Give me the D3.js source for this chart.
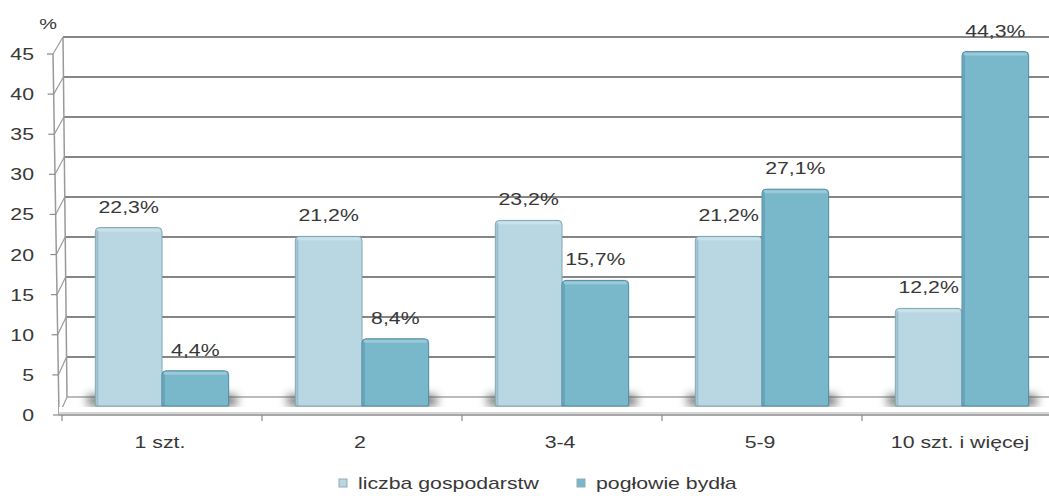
<!DOCTYPE html>
<html>
<head>
<meta charset="utf-8">
<script src="https://cdn.jsdelivr.net/npm/d3@7"></script>
<style>
  body { margin: 0; background: #fff; }
  svg { display: block; font-family: "Liberation Sans", Arial, sans-serif; }
</style>
</head>
<body>
<svg id="chart" width="1049" height="496"></svg>
<script>
// data
const categories = ["1 szt.", "2", "3-4", "5-9", "10 szt. i więcej"];
const series = ["liczba gospodarstw", "pogłowie bydła"];
const households = [22.3, 21.2, 23.2, 21.2, 12.2];
const cattle = [4.4, 8.4, 15.7, 27.1, 44.3];
const yTicks = [0, 5, 10, 15, 20, 25, 30, 35, 40, 45];

const colors = { "liczba gospodarstw": "#b8d7e2", "pogłowie bydła": "#79b7cb" };
const outline = { "liczba gospodarstw": "#7fa6b4", "pogłowie bydła": "#4e8aa0" };
const textColor = "#383838";
const sx = 1.33; // horizontal stretch of the text in the picture

const svg = d3.select("#chart");

// scales: bars sit in the middle of the depth, back wall and front axis around them
const x = d3.scaleBand().domain(categories).range([62, 1062]).padding(0);
const xs = d3.scaleBand().domain(series).range([0, x.bandwidth()]).paddingInner(0).paddingOuter(0.5);
const yBar = d3.scaleLinear().domain([0, 45]).range([406, 46]);
const yBack = d3.scaleLinear().domain([0, 45]).range([397, 37]);
const yFront = d3.scaleLinear().domain([0, 45]).range([415, 54]);
const xFront = d3.scaleLinear().domain([0, 45]).range([59, 53]);
const xBack = d3.scaleLinear().domain([0, 45]).range([67, 63]);

const defs = svg.append("defs");
defs.append("filter").attr("id", "blur")
    .attr("x", "-20%").attr("y", "-100%").attr("width", "140%").attr("height", "300%")
    .append("feGaussianBlur").attr("stdDeviation", 5);

function stretchedText(g, tx, ty, txt, anchor, size) {
    return g.append("text")
        .attr("transform", `translate(${tx},${ty}) scale(${sx},1)`)
        .attr("text-anchor", anchor)
        .attr("fill", textColor)
        .style("font-size", (size || 16) + "px")
        .text(txt);
}

// back wall gridlines
svg.append("g").selectAll("line")
    .data(yTicks).enter().append("line")
    .attr("x1", d => xBack(d)).attr("x2", 1049)
    .attr("y1", d => yBack(d)).attr("y2", d => yBack(d))
    .attr("stroke", d => d === 0 ? "#bbb" : "#868686")
    .attr("stroke-width", 1.8);

// side wall diagonals
svg.append("g").selectAll("line")
    .data(yTicks).enter().append("line")
    .attr("x1", d => xFront(d)).attr("y1", d => yFront(d))
    .attr("x2", d => xBack(d)).attr("y2", d => yBack(d))
    .attr("stroke", "#9a9a9a").attr("stroke-width", 1.2);

// side wall verticals
svg.append("line")
    .attr("x1", xFront(0)).attr("y1", yFront(0)).attr("x2", xFront(45)).attr("y2", yFront(45))
    .attr("stroke", "#9a9a9a").attr("stroke-width", 1.5);
svg.append("line")
    .attr("x1", xBack(0)).attr("y1", yBack(0)).attr("x2", xBack(45)).attr("y2", yBack(45))
    .attr("stroke", "#9a9a9a").attr("stroke-width", 1.5);

// floor shadows
const groups = svg.append("g").selectAll("g")
    .data(categories).enter().append("g")
    .attr("transform", d => `translate(${x(d)},0)`);

groups.append("rect")
    .attr("x", xs(series[0]) - 8)
    .attr("width", xs.bandwidth() * 2 + 16)
    .attr("y", yBack(0) - 2)
    .attr("height", yBar(0) - yBack(0) + 2)
    .attr("fill", "#5f5f5f")
    .attr("opacity", 0.85)
    .attr("filter", "url(#blur)");

// floor front edge and x axis
svg.append("rect")
    .attr("x", xFront(0)).attr("y", yBar(0) + 1)
    .attr("width", 1049 - xFront(0)).attr("height", yFront(0) - yBar(0) - 1)
    .attr("fill", "#fff");
svg.append("line")
    .attr("x1", xFront(0)).attr("x2", 1049)
    .attr("y1", yFront(0) - 2).attr("y2", yFront(0) - 2)
    .attr("stroke", "#d6d6d6").attr("stroke-width", 2);
svg.append("line")
    .attr("x1", xFront(0)).attr("x2", 1049)
    .attr("y1", yFront(0)).attr("y2", yFront(0))
    .attr("stroke", "#8a8a8a").attr("stroke-width", 1.5);

svg.append("g").selectAll("line")
    .data(categories).enter().append("line")
    .attr("x1", d => x(d)).attr("x2", d => x(d))
    .attr("y1", yFront(0)).attr("y2", yFront(0) + 6)
    .attr("stroke", "#8a8a8a").attr("stroke-width", 1.2);

// bars
const rows = categories.map((c, i) => ({ cat: c, values: [
    { s: series[0], v: households[i] },
    { s: series[1], v: cattle[i] }
]}));

function barPath(x0, w, top, bottom) {
    const r = 4;
    return `M${x0},${bottom}V${top + r}Q${x0},${top} ${x0 + r},${top}H${x0 + w - r}` +
        `Q${x0 + w},${top} ${x0 + w},${top + r}V${bottom}Z`;
}

const bars = groups.data(rows).selectAll("g.bar")
    .data(d => d.values).enter().append("g").attr("class", "bar");

bars.append("path")
    .attr("d", d => barPath(xs(d.s), xs.bandwidth(), yBar(d.v), yBar(0)))
    .attr("fill", d => colors[d.s])
    .attr("stroke", d => outline[d.s])
    .attr("stroke-width", 1);

// top highlight
bars.append("rect")
    .attr("x", d => xs(d.s) + 2).attr("width", xs.bandwidth() - 4)
    .attr("y", d => yBar(d.v) + 1).attr("height", 3)
    .attr("fill", "#fff").attr("opacity", 0.25);

// left edge shade
bars.append("rect")
    .attr("x", d => xs(d.s) + 1).attr("width", 2)
    .attr("y", d => yBar(d.v) + 3).attr("height", d => yBar(0) - yBar(d.v) - 3)
    .attr("fill", "#3d6f82").attr("opacity", 0.25);

// value labels
bars.each(function(d) {
    stretchedText(d3.select(this), xs(d.s) + xs.bandwidth() / 2, yBar(d.v) - 15,
        d.v.toFixed(1).replace(".", ",") + "%", "middle");
});

// y tick labels
const yAxisG = svg.append("g");
yTicks.forEach(t => {
    stretchedText(yAxisG, 34, yFront(t) + 6, t, "end");
    yAxisG.append("line")
        .attr("x1", xFront(t) - 6).attr("x2", xFront(t))
        .attr("y1", yFront(t)).attr("y2", yFront(t))
        .attr("stroke", "#8a8a8a").attr("stroke-width", 1.2);
});
stretchedText(svg, 48, 29, "%", "middle", 15);

// category labels
categories.forEach(c => {
    stretchedText(svg, x(c) + x.bandwidth() / 2 - 2, 448, c, "middle");
});

// legend
const legend = svg.append("g");
const legendX = [339, 577];
series.forEach((s, i) => {
    legend.append("rect")
        .attr("x", legendX[i]).attr("y", 479)
        .attr("width", 8).attr("height", 8)
        .attr("fill", colors[s]).attr("stroke", "#9aa9b0").attr("stroke-width", 1);
    stretchedText(legend, legendX[i] + 19, 489, s, "start");
});
</script>
</body>
</html>
